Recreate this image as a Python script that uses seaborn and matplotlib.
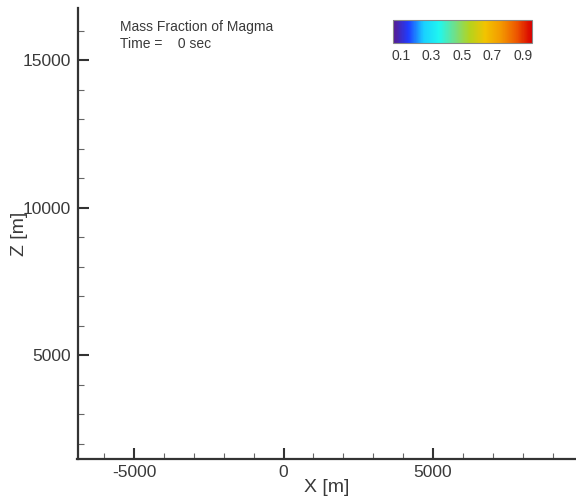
import numpy as np
import pandas as pd
import matplotlib
matplotlib.use("Agg")
import matplotlib.pyplot as plt
import seaborn as sns
from matplotlib.colors import LinearSegmentedColormap, Normalize
from matplotlib.cm import ScalarMappable
from matplotlib.ticker import MultipleLocator

sns.set_theme(style="white")
plt.rcParams['font.family'] = ['Liberation Sans', 'DejaVu Sans']
plt.rcParams['axes.unicode_minus'] = False

# ---- data ----
title_lines = ["Mass Fraction of Magma", "Time =    0 sec"]
x_values = []          # no magma present at t = 0
z_values = []
frac_values = []
x_ticks = [-5000, 0, 5000]
z_ticks = [5000, 10000, 15000]
cbar_ticks = [0.1, 0.3, 0.5, 0.7, 0.9]
cbar_range = [0.045, 0.96]
x_range = [-6890, 9780]
z_range = [1475, 16765]

cmap_colors = ["#5a1a8a", "#1f3cff", "#19d0ff", "#1ff7f0", "#6fe08a",
               "#b6d31c", "#f2c300", "#f39a00", "#ee5a00", "#d80000"]
cmap = LinearSegmentedColormap.from_list("magma_frac", cmap_colors)

fig = plt.figure(figsize=(5.76, 5.01), dpi=100)
ax = fig.add_axes([77.5/576, 42/501, 1 - 77.5/576, 451/501])

df = pd.DataFrame({"x": x_values, "z": z_values, "f": frac_values})
sns.scatterplot(data=df, x="x", y="z", ax=ax)

ax.set_xlim(*x_range)
ax.set_ylim(*z_range)
ax.set_xticks(x_ticks)
ax.set_yticks(z_ticks)
ax.xaxis.set_minor_locator(MultipleLocator(1000))
ax.yaxis.set_minor_locator(MultipleLocator(1000))
gray = "#3a3a3a"
ax.tick_params(which="major", direction="in", length=8, width=1.5, color="#333333",
               labelsize=12.5, labelcolor=gray)
ax.tick_params(axis="x", which="major", pad=4)
ax.tick_params(axis="y", which="major", pad=4.5)
ax.tick_params(which="minor", direction="in", length=4.5, width=0.8, color="#666666")
ax.tick_params(axis="x", which="both", bottom=True, top=False)
ax.tick_params(axis="y", which="both", left=True, right=False)
for s in ["top", "right"]:
    ax.spines[s].set_visible(False)
for s in ["left", "bottom"]:
    ax.spines[s].set_color("#333333")
    ax.spines[s].set_linewidth(1.6)
ax.set_xlabel("X [m]", fontsize=14, color=gray, va="top")
ax.set_ylabel("Z [m]", fontsize=14, color=gray)
ax.xaxis.set_label_coords(0.5, -0.045)
ax.yaxis.set_label_coords(-0.100, 0.5)
ax.grid(False)

fig.text(120/576, 1 - 27/501, title_lines[0], fontsize=10, color=gray, va="center", ha="left")
fig.text(120/576, 1 - 44/501, title_lines[1], fontsize=10, color=gray, va="center", ha="left")

cax = fig.add_axes([392.7/576, 1 - 43/501, 139/576, 23/501])
sm = ScalarMappable(norm=Normalize(*cbar_range), cmap=cmap)
cb = fig.colorbar(sm, cax=cax, orientation="horizontal")
cb.set_ticks(cbar_ticks)
cb.ax.tick_params(length=0, labelsize=10, labelcolor=gray, pad=4)
cb.outline.set_edgecolor("#888888")
cb.outline.set_linewidth(0.8)

fig.savefig("out.png", dpi=100)
